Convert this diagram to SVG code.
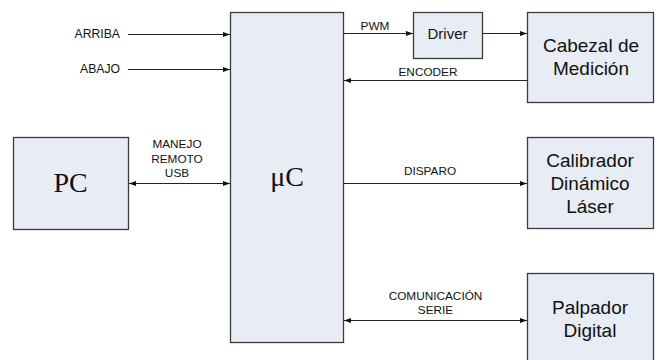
<svg xmlns="http://www.w3.org/2000/svg" width="657" height="360" viewBox="0 0 657 360">
<style>
.box{fill:#E8ECF4;stroke:#3c3c3c;stroke-width:1.3}
.big{font-family:"Liberation Sans",Arial,sans-serif;font-size:19px;fill:#111;text-anchor:middle}
.ser{font-family:"Liberation Serif","Times New Roman",serif;font-size:28px;fill:#111;text-anchor:middle}
.lbl{font-family:"Liberation Sans",Arial,sans-serif;font-size:11.8px;fill:#111;text-anchor:middle}
.ln{stroke:#222;stroke-width:1;fill:none}
</style>
<defs>
<marker id="ah" markerUnits="userSpaceOnUse" markerWidth="8" markerHeight="6" refX="7" refY="3" orient="auto-start-reverse">
<path d="M0,0.5 L7,3 L0,5.5 z" fill="#111"/>
</marker>
</defs>
<rect width="657" height="360" fill="#fff"/>
<g id="uC">
<rect class="box" x="230.5" y="12.5" width="113" height="330"/>
<text class="ser" x="287" y="186">μC</text>
</g>
<g id="PC">
<rect class="box" x="13.5" y="137.5" width="115" height="92"/>
<text class="ser" x="70.5" y="192">PC</text>
</g>
<g id="Driver">
<rect class="box" x="413.5" y="12.5" width="69" height="46"/>
<text class="big" x="447.5" y="39" style="font-size:15px">Driver</text>
</g>
<g id="Cabezal">
<rect class="box" x="527.5" y="12.5" width="126" height="90"/>
<text class="big" x="591" y="52">Cabezal de</text>
<text class="big" x="591" y="75">Medición</text>
</g>
<g id="Calibrador">
<rect class="box" x="527.5" y="137.5" width="126" height="91"/>
<text class="big" x="590" y="167">Calibrador</text>
<text class="big" x="590" y="190">Dinámico</text>
<text class="big" x="590" y="213">Láser</text>
</g>
<g id="Palpador">
<rect class="box" x="527.5" y="273.5" width="126" height="95"/>
<text class="big" x="590" y="314">Palpador</text>
<text class="big" x="590" y="337">Digital</text>
</g>
<g id="connectors">
<line class="ln" x1="128" y1="34.5" x2="230" y2="34.5" marker-end="url(#ah)"/>
<line class="ln" x1="128" y1="69.5" x2="230" y2="69.5" marker-end="url(#ah)"/>
<line class="ln" x1="129" y1="183.5" x2="230" y2="183.5" marker-start="url(#ah)" marker-end="url(#ah)"/>
<line class="ln" x1="344" y1="33.5" x2="413" y2="33.5" marker-end="url(#ah)"/>
<line class="ln" x1="483" y1="33.5" x2="527" y2="33.5" marker-end="url(#ah)"/>
<line class="ln" x1="527" y1="80.5" x2="344" y2="80.5" marker-end="url(#ah)"/>
<line class="ln" x1="344" y1="183.5" x2="527" y2="183.5" marker-end="url(#ah)"/>
<line class="ln" x1="344" y1="320.5" x2="527" y2="320.5" marker-start="url(#ah)" marker-end="url(#ah)"/>
</g>
<g id="labels">
<text class="lbl" x="120" y="38" style="text-anchor:end;font-size:12.2px">ARRIBA</text>
<text class="lbl" x="120" y="73" style="text-anchor:end;font-size:12.2px">ABAJO</text>
<text class="lbl" x="177" y="148">MANEJO</text>
<text class="lbl" x="177" y="162.5">REMOTO</text>
<text class="lbl" x="177" y="177">USB</text>
<text class="lbl" x="375" y="30">PWM</text>
<text class="lbl" x="428" y="76">ENCODER</text>
<text class="lbl" x="430" y="175">DISPARO</text>
<text class="lbl" x="435.5" y="300">COMUNICACIÓN</text>
<text class="lbl" x="435.5" y="313.5">SERIE</text>
</g>
</svg>
